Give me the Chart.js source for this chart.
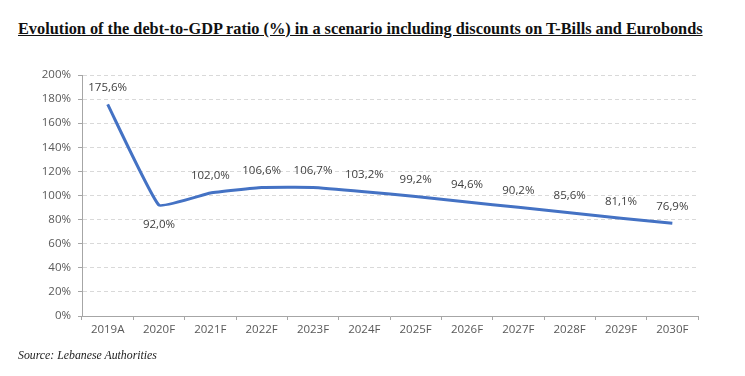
<!DOCTYPE html>
<html>
<head>
<meta charset="utf-8">
<script src="https://cdn.jsdelivr.net/npm/chart.js@4/dist/chart.umd.min.js"></script>
<style>
    body { margin: 0; background: #fff; }
    #wrap { position: relative; width: 745px; height: 376px; overflow: hidden; }
    #chart { position: absolute; left: 0; top: 0; }
    .title {
        position: absolute; left: 18px; top: 19px;
        font-family: "Liberation Serif", "Times New Roman", serif;
        font-weight: bold; font-size: 16.3px; color: #111;
        text-decoration: underline; white-space: nowrap;
    }
    .source {
        position: absolute; left: 18px; top: 348px;
        font-family: "Liberation Serif", "Times New Roman", serif;
        font-style: italic; font-size: 11.8px; color: #222; white-space: nowrap;
    }
</style>
</head>
<body>
<div id="wrap">
    <div class="title">Evolution of the debt-to-GDP ratio (%) in a scenario including discounts on T-Bills and Eurobonds</div>
    <canvas id="chart" width="745" height="376"></canvas>
    <div class="source">Source: Lebanese Authorities</div>
</div>
<script>
const years = ['2019A', '2020F', '2021F', '2022F', '2023F', '2024F', '2025F', '2026F', '2027F', '2028F', '2029F', '2030F'];
const debtRatio = [175.6, 92.0, 102.0, 106.6, 106.7, 103.2, 99.2, 94.6, 90.2, 85.6, 81.1, 76.9];
const yTicks = [0, 20, 40, 60, 80, 100, 120, 140, 160, 180, 200];

const FONT = '"Open Sans", sans-serif';

function fmt(v) {
    return v.toFixed(1).replace('.', ',') + '%';
}

// simple value labels, the 2020 dip gets its label below the line
const valueLabels = {
    id: 'valueLabels',
    afterDatasetsDraw(chart) {
        const ctx = chart.ctx;
        const meta = chart.getDatasetMeta(0);
        ctx.save();
        ctx.font = '11.5px ' + FONT;
        ctx.fillStyle = '#404040';
        ctx.textAlign = 'center';
        ctx.textBaseline = 'middle';
        meta.data.forEach((pt, i) => {
            const below = i === 1;
            ctx.fillText(fmt(debtRatio[i]), pt.x, below ? pt.y + 20 : pt.y - 17);
        });
        ctx.restore();
    }
};

new Chart(document.getElementById('chart'), {
    type: 'line',
    data: {
        labels: years,
        datasets: [{
            data: debtRatio,
            borderColor: '#4472C4',
            borderWidth: 3,
            pointRadius: 0,
            tension: 0.1,
            fill: false
        }]
    },
    options: {
        responsive: false,
        animation: false,
        layout: { padding: { top: 75, right: 47, bottom: 30, left: 0 } },
        plugins: { legend: { display: false }, tooltip: { enabled: false } },
        scales: {
            x: {
                offset: true,
                grid: {
                    offset: true,
                    drawOnChartArea: false,
                    drawTicks: true,
                    tickLength: 4,
                    tickColor: '#a6a6a6'
                },
                border: { color: '#a6a6a6', width: 1 },
                ticks: { color: '#595959', font: { family: FONT, size: 11.5 }, padding: 3, maxRotation: 0 },
                afterFit(scale) { scale.height = 30; }
            },
            y: {
                min: 0,
                max: 200,
                afterBuildTicks(scale) { scale.ticks = yTicks.map(v => ({ value: v })); },
                grid: {
                    color: '#d9d9d9',
                    tickBorderDash: [1, 0],
                    tickLength: 4,
                    tickColor: '#a6a6a6'
                },
                border: { color: '#a6a6a6', width: 1, dash: [4, 3] },
                ticks: {
                    color: '#595959',
                    font: { family: FONT, size: 11.5 },
                    padding: 7,
                    callback: v => v + '%'
                },
                afterFit(scale) { scale.width = 82; }
            }
        }
    },
    plugins: [valueLabels]
});
</script>
</body>
</html>
